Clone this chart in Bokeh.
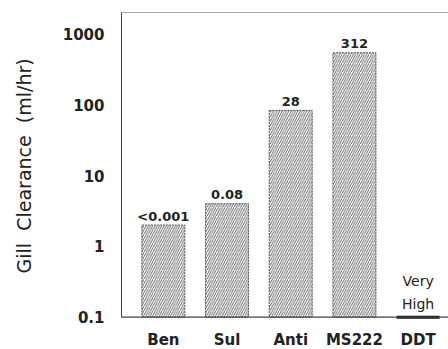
from bokeh.plotting import figure
from bokeh.models import (Range1d, FixedTicker, CustomJSTickFormatter, Span,
                          ColumnDataSource)
from bokeh.embed import file_html
from bokeh.resources import INLINE
from bokeh.core.properties import value
import math

# ---- data ----
categories = ["Ben", "Sul", "Anti", "MS222", "DDT"]
clearance = [2.0, 4.0, 83.0, 540.0, 0.1]          # ml/hr, DDT sits at the axis floor
bar_labels = ["<0.001", "0.08", "28", "312", "Very\nHigh"]
y_ticks = [0.1, 1, 10, 100, 1000]
y_tick_labels = ["0.1", "1", "10", "100", "1000"]
y_floor = 0.1
y_top = 2000
y_title = "Gill\u00a0 Clearance\u00a0 (ml/hr)"

# ---- layout ----
W, H = 448, 349
top_px, axis_px = 12, 316.7          # frame top and the 0.1 baseline
px_per_dec = (axis_px - top_px) / math.log10(y_top / y_floor)
y_view_bottom = y_floor / 10 ** ((H - axis_px) / px_per_dec)   # room for category labels
# the axis title is centred on the whole frame; pad its start so the words
# sit centred on the plotted 0.1..2000 span instead
title_pad = "\u00a0" * 5

positions = list(range(1, len(categories) + 1))

p = figure(width=W, height=H, y_axis_type="log",
           x_range=Range1d(0.343, 5.477), y_range=Range1d(y_view_bottom, y_top),
           x_axis_location=None,
           output_backend="svg", toolbar_location=None,
           min_border_left=121, min_border_right=0, min_border_top=top_px, min_border_bottom=0)
p.grid.visible = False
p.outline_line_color = None
p.background_fill_color = "white"
p.border_fill_color = "white"

src = ColumnDataSource(dict(x=positions[:4], top=clearance[:4], label=bar_labels[:4]))
p.vbar(x="x", top="top", bottom=y_floor, width=0.675, source=src,
       fill_color="white", line_color="#555", line_width=1, line_dash="2 1",
       hatch_pattern="right_diagonal_line", hatch_color="#555",
       hatch_scale=4.5, hatch_weight=0.9)

# DDT: "very high" clearance drawn as a flat bar at the floor
p.vbar(x=[positions[4]], top=[clearance[4]], bottom=y_floor, width=0.675,
       fill_color=None, line_color="#111", line_width=3)

p.text(x="x", y="top", text="label", source=src, text_align="center",
       text_baseline="alphabetic", y_offset=-9,
       text_font=value("DejaVu Sans"), text_font_style="bold",
       text_font_size="13px", text_color="#222")

p.text(x=[positions[4]], y=[clearance[4]], text=[bar_labels[4]], text_align="center",
       text_baseline="bottom", y_offset=-5, text_line_height=1.45,
       text_font=value("DejaVu Sans"), text_font_style="normal",
       text_font_size="14px", text_color="#222")

# frame lines: top border and the baseline axis
p.add_layout(Span(location=y_top, dimension="width", line_color="#555", line_width=1))
p.add_layout(Span(location=y_floor, dimension="width", line_color="#444", line_width=1.3))

# category labels under the baseline
p.text(x=positions, y=[y_floor] * len(positions), text=categories, text_align="center",
       text_baseline="alphabetic", y_offset=23,
       text_font=value("DejaVu Sans"), text_font_style="bold",
       text_font_size="15px", text_color="#222")

# y axis
yax = p.yaxis[0]
yax.bounds = (y_floor, y_top)
yax.major_tick_line_color = None
yax.minor_tick_line_color = None
yax.axis_line_color = "#444"
yax.axis_line_width = 1
yax.major_label_text_font = "DejaVu Sans"
yax.major_label_text_font_style = "bold"
yax.major_label_text_font_size = "15px"
yax.major_label_text_color = "#222"
yax.ticker = FixedTicker(ticks=y_ticks, minor_ticks=[])
yax.formatter = CustomJSTickFormatter(args=dict(tvals=y_ticks, tlabels=y_tick_labels), code="""
let best = 0; let d = Infinity;
for (let i = 0; i < tvals.length; i++) {
  const e = Math.abs(Math.log10(tvals[i]) - Math.log10(tick));
  if (e < d) { d = e; best = i; }
}
return tlabels[best];
""")
yax.major_label_standoff = 11
yax.axis_label = title_pad + y_title
yax.axis_label_text_font = "DejaVu Sans"
yax.axis_label_text_font_style = "normal"
yax.axis_label_text_font_size = "19px"
yax.axis_label_text_color = "#222"
yax.axis_label_standoff = 25

open("out.html", "w").write(file_html(p, INLINE))
